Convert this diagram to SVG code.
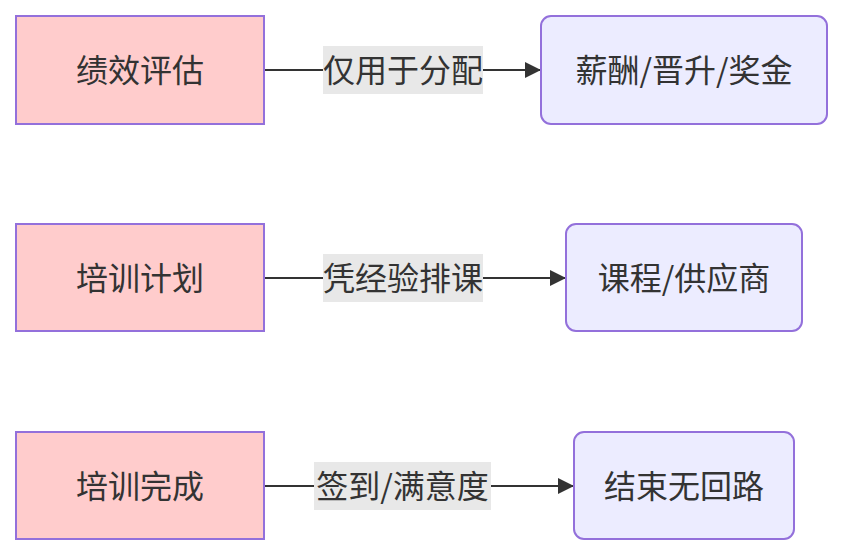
<svg xmlns="http://www.w3.org/2000/svg" width="842" height="556" viewBox="0 0 842 556">
<defs>
<marker id="arr" viewBox="0 0 10 10" refX="10" refY="5" markerWidth="16" markerHeight="16" markerUnits="userSpaceOnUse" orient="auto">
<path d="M0,0 L10,5 L0,10 z" fill="#333333"/>
</marker>
<style>
.src{fill:#ffcccc;stroke:#9370db;stroke-width:2}
.dst{fill:#ececff;stroke:#9370db;stroke-width:2}
.t{font-family:"Noto Sans CJK SC","Liberation Sans",sans-serif;font-size:32px;fill:#333333;text-anchor:middle;dominant-baseline:central}
.edge{stroke:#333333;stroke-width:2;fill:none}
.lbg{fill:#e8e8e8}
</style>
</defs>
<rect width="842" height="556" fill="#ffffff"/>
<g id="connectors">
<path class="edge" d="M264,70 L541,70" marker-end="url(#arr)"/>
<path class="edge" d="M264,278 L566,278" marker-end="url(#arr)"/>
<path class="edge" d="M264,486 L574,486" marker-end="url(#arr)"/>
<rect class="lbg" x="323" y="46" width="160" height="48"/>
<text class="t" x="403" y="68">仅用于分配</text>
<rect class="lbg" x="323" y="254" width="160" height="48"/>
<text class="t" x="403" y="276">凭经验排课</text>
<rect class="lbg" x="314" y="462" width="177" height="48"/>
<text class="t" x="402.5" y="484">签到/满意度</text>
</g>
<g id="A"><rect class="src" x="16" y="16" width="248" height="108"/><text class="t" x="140" y="68">绩效评估</text></g>
<g id="B"><rect class="dst" x="541" y="16" width="286" height="108" rx="10"/><text class="t" x="684" y="68">薪酬/晋升/奖金</text></g>
<g id="C"><rect class="src" x="16" y="224" width="248" height="107"/><text class="t" x="140" y="276">培训计划</text></g>
<g id="D"><rect class="dst" x="566" y="224" width="236" height="107" rx="10"/><text class="t" x="684" y="276">课程/供应商</text></g>
<g id="E"><rect class="src" x="16" y="432" width="248" height="107"/><text class="t" x="140" y="484">培训完成</text></g>
<g id="F"><rect class="dst" x="574" y="432" width="220" height="107" rx="10"/><text class="t" x="684" y="484">结束无回路</text></g>
</svg>
